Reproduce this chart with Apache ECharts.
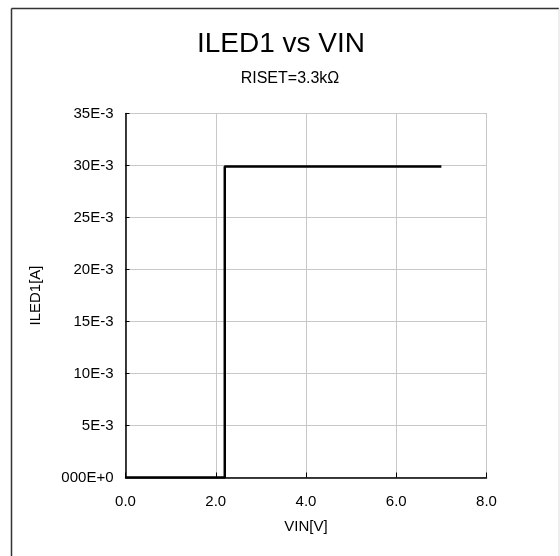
<!DOCTYPE html>
<html>
<head>
<meta charset="utf-8">
<script src="https://cdn.jsdelivr.net/npm/echarts@6/dist/echarts.min.js"></script>
<style>
html,body{margin:0;padding:0;background:#fff;}
#c{width:560px;height:556px;}
</style>
</head>
<body>
<div id="c"></div>
<script>
const titleText = 'ILED1 vs VIN';
const subtitleText = 'RISET=3.3kΩ';
const xName = 'VIN[V]';
const yName = 'ILED1[A]';
const vin = [0, 2.2, 2.2, 7.0];
const iled = [0, 0, 0.0299, 0.0299];
const yTickLabels = ['000E+0','5E-3','10E-3','15E-3','20E-3','25E-3','30E-3','35E-3'];

const seriesData = vin.map((v, i) => [v, iled[i]]);
const font = 'Liberation Sans, Arial, sans-serif';

const chart = echarts.init(document.getElementById('c'), null, {renderer: 'canvas'});
chart.setOption({
  animation: false,
  backgroundColor: '#fff',
  title: [{
    text: titleText,
    left: 276, top: 25, textAlign: 'center',
    textStyle: {fontFamily: font, fontSize: 28, fontWeight: 'normal', color: '#000'}
  }, {
    text: subtitleText,
    left: 285, top: 66, textAlign: 'center',
    textStyle: {fontFamily: font, fontSize: 16, fontWeight: 'normal', color: '#000'}
  }],
  graphic: [
    {type: 'line', shape: {x1: 11.5, y1: 8.5, x2: 559, y2: 8.5}, style: {stroke: '#333', lineWidth: 1.5}},
    {type: 'line', shape: {x1: 11.5, y1: 8.5, x2: 11.5, y2: 556}, style: {stroke: '#333', lineWidth: 1.5}},
    {type: 'line', shape: {x1: 559, y1: 8.5, x2: 559, y2: 556}, style: {stroke: '#ddd', lineWidth: 1}}
  ],
  grid: {
    left: 125.5, right: 73.5, top: 113.5, bottom: 78.5,
    show: true, borderColor: '#999', borderWidth: 1, backgroundColor: 'transparent'
  },
  xAxis: {
    type: 'value', min: 0, max: 8, interval: 2,
    name: xName, nameLocation: 'middle', nameGap: 42,
    nameTextStyle: {fontFamily: font, fontSize: 15, color: '#000'},
    axisLine: {show: true, lineStyle: {color: '#000', width: 1.5}},
    axisTick: {show: true, inside: true, length: 5, lineStyle: {color: '#000'}},
    axisLabel: {fontFamily: font, fontSize: 15, color: '#000', margin: 17,
      formatter: v => v.toFixed(1)},
    splitLine: {show: true, lineStyle: {color: '#c8c8c8', width: 1}}
  },
  yAxis: {
    type: 'value', min: 0, max: 0.035, interval: 0.005,
    name: yName, nameLocation: 'middle', nameGap: 82, nameRotate: 90,
    nameTextStyle: {fontFamily: font, fontSize: 15, color: '#000'},
    axisLine: {show: true, lineStyle: {color: '#000', width: 1.5}},
    axisTick: {show: true, inside: true, length: 4, lineStyle: {color: '#000'}},
    axisLabel: {fontFamily: font, fontSize: 15, color: '#000', margin: 12,
      formatter: v => yTickLabels[Math.round(v / 0.005)]},
    splitLine: {show: true, lineStyle: {color: '#c8c8c8', width: 1}}
  },
  series: [{
    type: 'line',
    data: seriesData,
    showSymbol: false,
    lineStyle: {color: '#000', width: 2.5},
    z: 3
  }]
});
</script>
</body>
</html>
